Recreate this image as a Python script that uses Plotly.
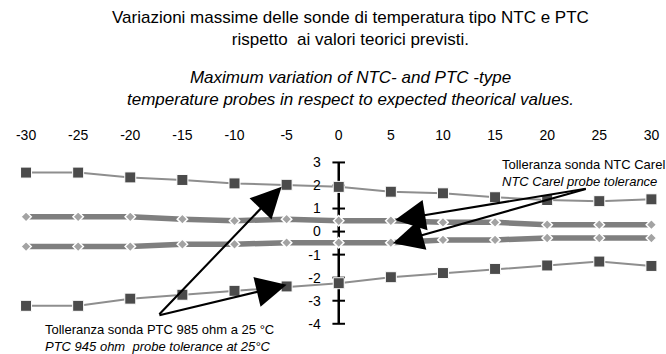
import plotly.graph_objects as go

# temperature (°C) and deviation (°C)
temps = [-30, -25, -20, -15, -10, -5, 0, 5, 10, 15, 20, 25, 30]
ptc_upper = [2.56, 2.56, 2.35, 2.24, 2.09, 2.03, 1.94, 1.73, 1.66, 1.49, 1.37, 1.32, 1.40]
ptc_lower = [-3.22, -3.22, -2.91, -2.74, -2.57, -2.38, -2.24, -1.98, -1.80, -1.62, -1.47, -1.30, -1.49]
ntc_upper = [0.64, 0.64, 0.64, 0.54, 0.47, 0.54, 0.47, 0.47, 0.40, 0.40, 0.30, 0.30, 0.30]
ntc_lower = [-0.65, -0.65, -0.65, -0.55, -0.55, -0.48, -0.48, -0.48, -0.36, -0.36, -0.28, -0.28, -0.28]
y_ticks = [3, 2, 1, 0, -1, -2, -3, -4]

# plain hyphen minus signs, as in the reference
x_labels = [str(t) for t in temps]
y_labels = [str(t) for t in y_ticks]

title_it = "Variazioni massime delle sonde di temperatura tipo NTC e PTC<br>rispetto  ai valori teorici previsti."
title_en = "<i>Maximum variation of NTC- and PTC -type<br>temperature probes in respect to expected theorical values.</i>"
ntc_label = "Tolleranza sonda NTC Carel<br><i>NTC Carel probe tolerance</i>"
ptc_label = "Tolleranza sonda PTC 985 ohm a 25 °C<br><i>PTC 945 ohm  probe tolerance at 25°C</i>"

W, H = 666, 354
M_TOP, M_BOT = 144, 21
X_RANGE = [-32.5, 31.4]
Y_RANGE = [-4.4, 3.8]
FONT = "Liberation Sans, Arial, sans-serif"

SQ_COLOR = "#4b4b4b"
THIN_LINE = "#8e8e8e"
THICK_LINE = "#7f7f7f"
DIAMOND = "#a3a3a3"


def paper_y(py):
    """pixel row from the top -> paper y"""
    return (H - M_BOT - py) / (H - M_TOP - M_BOT)


fig = go.Figure()

# the vertical axis through 0 with cross ticks
fig.add_trace(go.Scatter(
    x=[0] * len(y_ticks), y=y_ticks, mode="lines+markers",
    line=dict(color="black", width=2.5),
    marker=dict(symbol="line-ew", size=9, line=dict(color="black", width=2)),
    hoverinfo="skip", showlegend=False,
))

for vals in (ntc_upper, ntc_lower):
    fig.add_trace(go.Scatter(
        x=temps, y=vals, mode="lines+markers",
        line=dict(color=THICK_LINE, width=5.5),
        marker=dict(symbol="diamond", size=8, color=DIAMOND, line=dict(color="white", width=1.5)),
        showlegend=False,
    ))

for vals in (ptc_upper, ptc_lower):
    fig.add_trace(go.Scatter(
        x=temps, y=vals, mode="lines+markers",
        line=dict(color=THIN_LINE, width=2),
        marker=dict(symbol="square", size=11, color=SQ_COLOR, line=dict(color="white", width=1)),
        showlegend=False,
    ))

# arrows: (head x, head y, tail x, tail y)
arrows = [
    (5.4, 0.50, 23.85, 1.87),
    (5.2, -0.51, 23.85, 1.87),
    (-5.48, 1.94, -17.35, -3.65),
    (-5.0, -2.31, -17.35, -3.65),
]
for hx, hy, tx, ty in arrows:
    fig.add_annotation(
        x=hx, y=hy, ax=tx, ay=ty, xref="x", yref="y", axref="x", ayref="y",
        text="", showarrow=True, arrowhead=2, arrowsize=2.9, arrowwidth=2.1,
        arrowcolor="black", standoff=0,
    )

fig.add_annotation(x=15.5, y=2.54, xref="x", yref="y", text=ntc_label, showarrow=False,
                   xanchor="left", yanchor="middle", align="left",
                   font=dict(family=FONT, size=13, color="black"))
fig.add_annotation(x=42.7 / W, y=paper_y(337.5), xref="paper", yref="paper", text=ptc_label,
                   showarrow=False, xanchor="left", yanchor="middle", align="left",
                   font=dict(family=FONT, size=13, color="black"))

fig.add_annotation(x=351 / W, y=paper_y(28.8), xref="paper", yref="paper", text=title_it,
                   showarrow=False, xanchor="center", yanchor="middle", align="center",
                   font=dict(family=FONT, size=17, color="black"))
fig.add_annotation(x=351 / W, y=paper_y(88.5), xref="paper", yref="paper", text=title_en,
                   showarrow=False, xanchor="center", yanchor="middle", align="center",
                   font=dict(family=FONT, size=17, color="black"))

fig.update_layout(
    width=W, height=H,
    margin=dict(l=0, r=0, t=M_TOP, b=M_BOT),
    paper_bgcolor="white", plot_bgcolor="white",
    font=dict(family=FONT, size=14, color="black"),
    xaxis=dict(
        range=X_RANGE, side="top", tickvals=temps, ticktext=x_labels, showgrid=False,
        zeroline=False, showline=False, ticks="", tickfont=dict(size=14), automargin=False,
    ),
    yaxis=dict(
        range=Y_RANGE, anchor="free", position=(0 - X_RANGE[0]) / (X_RANGE[1] - X_RANGE[0]),
        tickvals=y_ticks, ticktext=y_labels, showgrid=False, zeroline=False, showline=False,
        ticks="", ticklabelstandoff=18, tickfont=dict(size=14), automargin=False,
    ),
)

# the page's default body margin would push the 666x354 figure off the window
fig.write_html("out.html", config={"displayModeBar": False},
               post_script="document.body.style.margin = '0';")
